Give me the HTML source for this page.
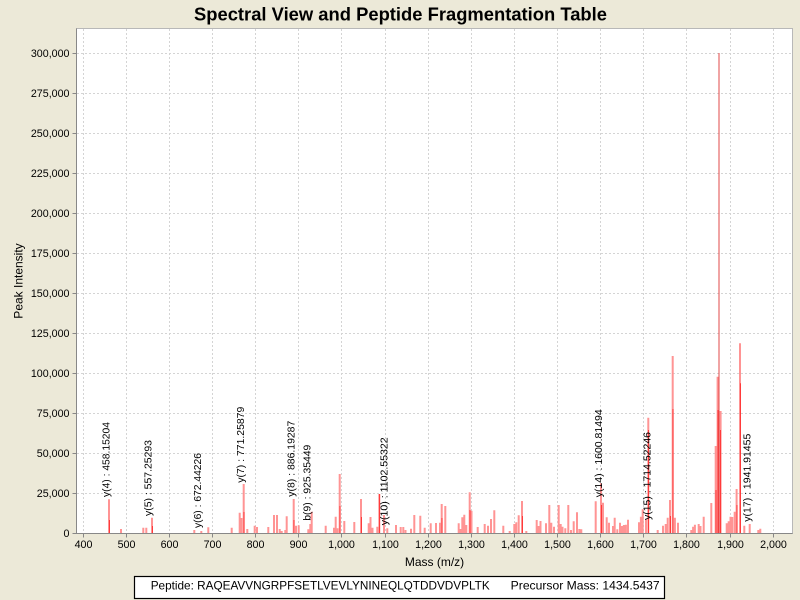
<!DOCTYPE html>
<html>
<head>
<meta charset="utf-8">
<style>
html,body{margin:0;padding:0;background:#ECE9D8;}
svg{display:block;}
text{font-family:"Liberation Sans",Arial,sans-serif;fill:#000;}
</style>
</head>
<body>
<svg width="800" height="600" viewBox="0 0 800 600" xmlns="http://www.w3.org/2000/svg">
<rect x="0" y="0" width="800" height="600" fill="#ECE9D8"/>
<!-- title -->
<text x="194" y="20.7" font-size="18" font-weight="bold" textLength="413" lengthAdjust="spacingAndGlyphs">Spectral View and Peptide Fragmentation Table</text>
<!-- plot area -->
<rect x="76.5" y="28.5" width="716" height="505" fill="#ffffff" stroke="#b8b8b8" stroke-width="1"/>
<!-- gridlines -->
<g stroke="#d4d4d4" stroke-width="1" stroke-dasharray="2,2" fill="none">
<path d="M83.5 29V533M126.5 29V533M169.5 29V533M212.5 29V533M255.5 29V533M298.5 29V533M341.5 29V533M385.5 29V533M428.5 29V533M471.5 29V533M514.5 29V533M557.5 29V533M600.5 29V533M643.5 29V533M686.5 29V533M730.5 29V533M773.5 29V533"/>
<path d="M77 493.5H792M77 453.5H792M77 413.5H792M77 373.5H792M77 333.5H792M77 293.5H792M77 253.5H792M77 213.5H792M77 173.5H792M77 133.5H792M77 93.5H792M77 53.5H792"/>
</g>
<!-- peaks light -->
<path fill="none" stroke="#ff9494" stroke-width="2" d="M109 533.3V499.3M121 533.3V529M143.3 533.3V527.7M146.3 533.3V527.7M152 533.3V517.7M194.3 533.3V530M201.3 533.3V531M208.3 533.3V527.3M231.7 533.3V527.7M239.7 533.3V512.7M241.5 533.3V518M243.7 533.3V484M247.3 533.3V529M254.7 533.3V525.7M257 533.3V527M268.3 533.3V527M274 533.3V515M277 533.3V515M279.7 533.3V529M281.7 533.3V531M285.3 533.3V530M286.7 533.3V516.3M293.7 533.3V499M296 533.3V525.7M298.7 533.3V525.3M308.3 533.3V529.3M310.3 533.3V524M311.7 533.3V511.7M325.7 533.3V525.7M334 533.3V527.7M335.7 533.3V516.7M337.5 533.3V528.3M339.7 533.3V474M344.3 533.3V521M354.3 533.3V522M361 533.3V499M368.7 533.3V523.3M370.5 533.3V517M372.5 533.3V527.7M377.3 533.3V526.7M379.3 533.3V494M384 533.3V515M387.3 533.3V528.3M396 533.3V525M400.7 533.3V527M403.3 533.3V527M405.5 533.3V530M411 533.3V528.7M414.3 533.3V515M420.3 533.3V515.7M424.7 533.3V527.7M430.7 533.3V523.3M436 533.3V523M440 533.3V522.7M441.7 533.3V504M445.3 533.3V506M458.7 533.3V523.3M460.7 533.3V529M462.3 533.3V517.3M464.3 533.3V514.7M466.3 533.3V525M469.7 533.3V492.3M471.5 533.3V510.7M477.7 533.3V527M484.7 533.3V524M488 533.3V525.7M491 533.3V519M494.3 533.3V510.3M503.3 533.3V525.7M509.7 533.3V531M514.3 533.3V524M516.3 533.3V522.3M518.7 533.3V515.3M522 533.3V501M526.3 533.3V531M536.7 533.3V520M538.7 533.3V526M540.5 533.3V521M546 533.3V523.3M549.3 533.3V505M551.3 533.3V522.7M554 533.3V526.7M558.7 533.3V505M560.7 533.3V524M562.5 533.3V526.7M565.3 533.3V528.3M568.3 533.3V505M571 533.3V530M573.7 533.3V521.3M577 533.3V512.3M579.3 533.3V529M581.3 533.3V529.3M595.7 533.3V501.3M601 533.3V483.3M603 533.3V502.7M606.7 533.3V517.3M609 533.3V522.7M613 533.3V526M614.7 533.3V517.7M617.3 533.3V529.3M620 533.3V522.7M622 533.3V526M623.9 533.3V525M625.9 533.3V524.7M628 533.3V519.7M639 533.3V522.3M640.9 533.3V516.7M642.7 533.3V509.3M646 533.3V519.3M648.3 533.3V417.7M657.7 533.3V530M663 533.3V525.7M665.7 533.3V524M667.7 533.3V517.7M670 533.3V500M672.7 533.3V356M674.9 533.3V517.7M678 533.3V522.7M691.3 533.3V530M693.1 533.3V526.7M694.9 533.3V524.7M698.7 533.3V524M700.5 533.3V526M703.7 533.3V516.7M711.3 533.3V503M715.7 533.3V446M717.6 533.3V376.7M720.6 533.3V411M726.7 533.3V523.3M728.7 533.3V521.3M730.5 533.3V516.7M732.3 533.3V517M734.7 533.3V511.7M736.6 533.3V489M740 533.3V343.3M744.3 533.3V525.7M749.7 533.3V524M758.3 533.3V530M760.3 533.3V528.7"/>
<!-- peaks darker core -->
<path fill="none" stroke="#ff3a3a" stroke-width="1" d="M109.5 533.3V520M152.5 533.3V526M244 533.3V512M294 533.3V520M340 533.3V506M361.5 533.3V517M379.5 533.3V494M442 533.3V518M470 533.3V510M522.5 533.3V516M601.5 533.3V505M648.5 533.3V430M670.5 533.3V516M673 533.3V409M716 533.3V490M718 533.3V410M720.5 533.3V430M737 533.3V505M740.5 533.3V383.3"/>
<path fill="none" stroke="#e04848" stroke-width="1" d="M719 533.3V53"/>
<!-- axes -->
<path fill="none" stroke="#888888" stroke-width="1" d="M76.5 28.5V533.5H792.5"/>
<!-- y ticks -->
<path fill="none" stroke="#888888" stroke-width="1" d="M72.5 533.5H76.5M72.5 493.5H76.5M72.5 453.5H76.5M72.5 413.5H76.5M72.5 373.5H76.5M72.5 333.5H76.5M72.5 293.5H76.5M72.5 253.5H76.5M72.5 213.5H76.5M72.5 173.5H76.5M72.5 133.5H76.5M72.5 93.5H76.5M72.5 53.5H76.5"/>
<!-- x ticks -->
<path fill="none" stroke="#888888" stroke-width="1" d="M83.5 533.5V537.5M126.5 533.5V537.5M169.5 533.5V537.5M212.5 533.5V537.5M255.5 533.5V537.5M298.5 533.5V537.5M341.5 533.5V537.5M385.5 533.5V537.5M428.5 533.5V537.5M471.5 533.5V537.5M514.5 533.5V537.5M557.5 533.5V537.5M600.5 533.5V537.5M643.5 533.5V537.5M686.5 533.5V537.5M730.5 533.5V537.5M773.5 533.5V537.5"/>
<!-- y tick labels -->
<g font-size="10.7" text-anchor="end">
<text x="69.5" y="537.2">0</text>
<text x="69.5" y="497.2">25,000</text>
<text x="69.5" y="457.2">50,000</text>
<text x="69.5" y="417.2">75,000</text>
<text x="69.5" y="377.2">100,000</text>
<text x="69.5" y="337.2">125,000</text>
<text x="69.5" y="297.2">150,000</text>
<text x="69.5" y="257.2">175,000</text>
<text x="69.5" y="217.2">200,000</text>
<text x="69.5" y="177.2">225,000</text>
<text x="69.5" y="137.2">250,000</text>
<text x="69.5" y="97.2">275,000</text>
<text x="69.5" y="57.2">300,000</text>
</g>
<!-- x tick labels -->
<g font-size="10.7" text-anchor="middle">
<text x="83.5" y="548">400</text>
<text x="126.5" y="548">500</text>
<text x="169.5" y="548">600</text>
<text x="212.5" y="548">700</text>
<text x="255.5" y="548">800</text>
<text x="298.5" y="548">900</text>
<text x="341.5" y="548">1,000</text>
<text x="385.5" y="548">1,100</text>
<text x="428.5" y="548">1,200</text>
<text x="471.5" y="548">1,300</text>
<text x="514.5" y="548">1,400</text>
<text x="557.5" y="548">1,500</text>
<text x="600.5" y="548">1,600</text>
<text x="643.5" y="548">1,700</text>
<text x="686.5" y="548">1,800</text>
<text x="730.5" y="548">1,900</text>
<text x="773.5" y="548">2,000</text>
</g>
<!-- axis titles -->
<text x="434.5" y="566" font-size="12" text-anchor="middle">Mass (m/z)</text>
<text transform="translate(22.5,281) rotate(-90)" font-size="12" text-anchor="middle">Peak Intensity</text>
<!-- peak annotations -->
<g font-size="10.4">
<text transform="translate(109.5,497) rotate(-90)" textLength="75" lengthAdjust="spacingAndGlyphs">y(4) : 458.15204</text>
<text transform="translate(151.5,516) rotate(-90)" textLength="76" lengthAdjust="spacingAndGlyphs">y(5) : 557.25293</text>
<text transform="translate(201,528) rotate(-90)" textLength="75" lengthAdjust="spacingAndGlyphs">y(6) : 672.44226</text>
<text transform="translate(244,482.7) rotate(-90)" textLength="76" lengthAdjust="spacingAndGlyphs">y(7) : 771.25879</text>
<text transform="translate(294.5,496.7) rotate(-90)" textLength="76" lengthAdjust="spacingAndGlyphs">y(8) : 886.19287</text>
<text transform="translate(310.5,520.7) rotate(-90)" textLength="76" lengthAdjust="spacingAndGlyphs">b(9) : 925.35449</text>
<text transform="translate(387.5,525.3) rotate(-90)" textLength="88" lengthAdjust="spacingAndGlyphs">y(10) : 1102.55322</text>
<text transform="translate(602,497.3) rotate(-90)" textLength="88" lengthAdjust="spacingAndGlyphs">y(14) : 1600.81494</text>
<text transform="translate(650.5,520) rotate(-90)" textLength="88" lengthAdjust="spacingAndGlyphs">y(15) : 1714.52246</text>
<text transform="translate(750.5,521.7) rotate(-90)" textLength="88" lengthAdjust="spacingAndGlyphs">y(17) : 1941.91455</text>
</g>
<!-- legend box -->
<rect x="134.5" y="576.5" width="530" height="22" fill="#ffffff" stroke="#000000" stroke-width="1.2"/>
<text x="150.7" y="589.5" font-size="12" textLength="339" lengthAdjust="spacingAndGlyphs">Peptide: RAQEAVVNGRPFSETLVEVLYNINEQLQTDDVDVPLTK</text>
<text x="510.7" y="589.5" font-size="12" textLength="149" lengthAdjust="spacingAndGlyphs">Precursor Mass: 1434.5437</text>
</svg>
</body>
</html>
